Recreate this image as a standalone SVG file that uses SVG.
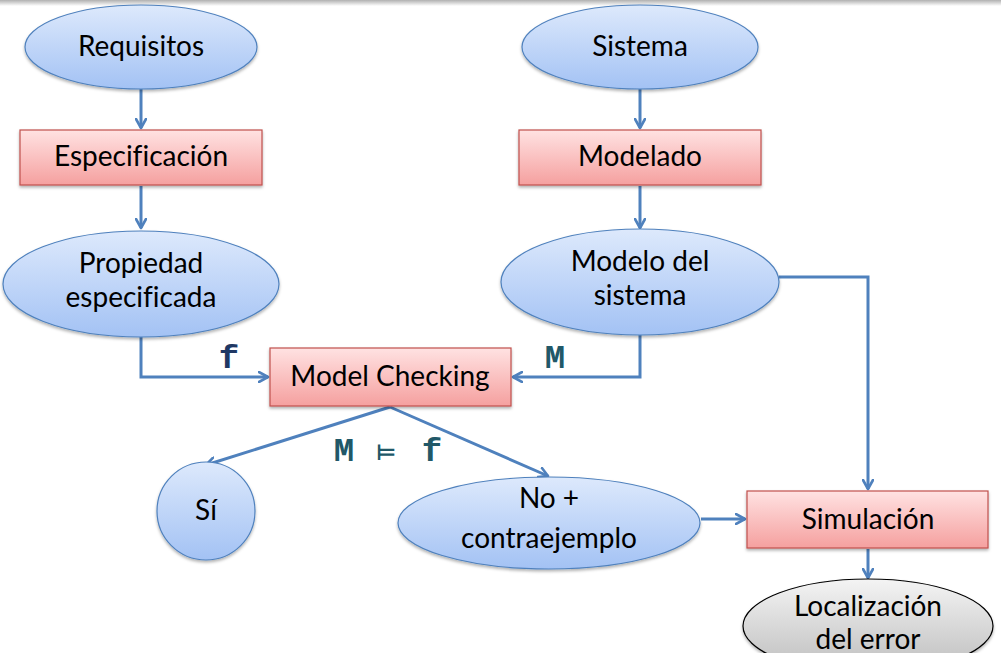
<svg xmlns="http://www.w3.org/2000/svg" width="1001" height="653" viewBox="0 0 1001 653">
<defs>
<linearGradient id="gb" x1="0" y1="0" x2="0" y2="1"><stop offset="0" stop-color="#dde9fc"/><stop offset="1" stop-color="#a3c2f4"/></linearGradient>
<linearGradient id="gr" x1="0" y1="0" x2="0" y2="1"><stop offset="0" stop-color="#ffe2e2"/><stop offset="1" stop-color="#f5a09f"/></linearGradient>
<linearGradient id="gg" x1="0" y1="0" x2="0" y2="1"><stop offset="0" stop-color="#f4f4f4"/><stop offset="1" stop-color="#bdbdbd"/></linearGradient>
<linearGradient id="gt" x1="0" y1="0" x2="0" y2="1"><stop offset="0" stop-color="#b0b0b0"/><stop offset="1" stop-color="#ffffff"/></linearGradient>
<filter id="sh" x="-10%" y="-10%" width="120%" height="130%"><feDropShadow dx="0" dy="2" stdDeviation="1.5" flood-color="#000" flood-opacity="0.3"/></filter>
<marker id="ah" viewBox="0 0 12 12" refX="10" refY="6" markerWidth="12" markerHeight="12" markerUnits="userSpaceOnUse" orient="auto"><path d="M1,1 L10,6 L1,11" fill="none" stroke="#4f81bd" stroke-width="2.6" stroke-linecap="round" stroke-linejoin="round"/></marker>
</defs>
<style>
.e{fill:url(#gb);stroke:#4f81bd;stroke-width:1.2;filter:url(#sh)}
.r{fill:url(#gr);stroke:#c0504d;stroke-width:1.2;filter:url(#sh)}
.g{fill:url(#gg);stroke:#000;stroke-width:1.2;filter:url(#sh)}
.t{font-family:Lato,"Open Sans","Liberation Sans",sans-serif;font-size:28px;fill:#000;text-anchor:middle;font-variant-ligatures:none}
.m{font-family:"Liberation Mono","DejaVu Sans Mono",monospace;font-weight:bold;font-size:34px;fill:#215868;text-anchor:middle}
.c path{fill:none;stroke:#4f81bd;stroke-width:3;marker-end:url(#ah)}
</style>
<rect x="0" y="0" width="1001" height="6" fill="url(#gt)"/>
<g class="c" id="connectors">
<path d="M141,89 V128"/>
<path d="M141,186 V228"/>
<path d="M640,89 V128"/>
<path d="M640,186 V228"/>
<path d="M141,337 V377 H268"/>
<path d="M640,335 V377 H513"/>
<path d="M390,407 L206,465"/>
<path d="M390,407 L548,476"/>
<path d="M779,277 H868 V489"/>
<path d="M701,519 H745"/>
<path d="M868,549 V578"/>
</g>
<g id="requisitos"><ellipse class="e" cx="141" cy="47" rx="116" ry="42"/><text class="t" x="141" y="56">Requisitos</text></g>
<g id="especificacion"><rect class="r" x="20" y="130" width="242" height="55"/><text class="t" x="141" y="166">Especificación</text></g>
<g id="propiedad"><ellipse class="e" cx="141" cy="284" rx="138" ry="53"/><text class="t" x="141" y="273">Propiedad</text><text class="t" x="141" y="307">especificada</text></g>
<g id="sistema"><ellipse class="e" cx="640" cy="47" rx="118" ry="42"/><text class="t" x="640" y="56">Sistema</text></g>
<g id="modelado"><rect class="r" x="519" y="130" width="242" height="55"/><text class="t" x="640" y="166">Modelado</text></g>
<g id="modelo"><ellipse class="e" cx="640" cy="282" rx="139" ry="53"/><text class="t" x="640" y="271">Modelo del</text><text class="t" x="640" y="305">sistema</text></g>
<g id="modelchecking"><rect class="r" x="270" y="348" width="241" height="58"/><text class="t" x="390" y="386">Model Checking</text></g>
<g id="si"><ellipse class="e" cx="206" cy="511" rx="49" ry="49"/><text class="t" x="206" y="520">Sí</text></g>
<g id="no"><ellipse class="e" cx="549" cy="523" rx="151" ry="46"/><text class="t" x="549" y="508">No +</text><text class="t" x="549" y="548">contraejemplo</text></g>
<g id="simulacion"><rect class="r" x="747" y="491" width="241" height="57"/><text class="t" x="868" y="529">Simulación</text></g>
<g id="localizacion"><ellipse class="g" cx="868" cy="626" rx="125" ry="47"/><text class="t" x="868" y="616">Localización</text><text class="t" x="868" y="649">del error</text></g>
<g id="labels">
<text class="m" x="229" y="368" style="fill:#1f3864">f</text>
<text class="m" x="555" y="368">M</text>
<text class="m" x="344" y="461">M</text>
<text class="m" x="386" y="460" style="font-family:'DejaVu Sans',sans-serif;font-size:22px;font-weight:bold">⊨</text>
<text class="m" x="432" y="461">f</text>
</g>
</svg>
